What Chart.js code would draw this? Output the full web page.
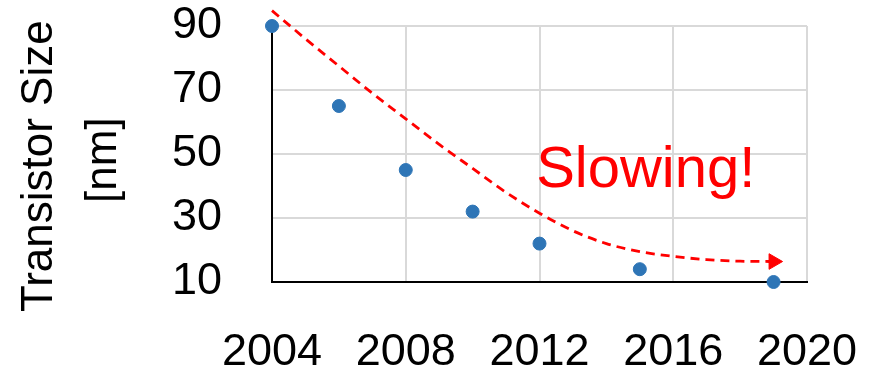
<!DOCTYPE html>
<html>
<head>
<meta charset="utf-8">
<script src="https://cdn.jsdelivr.net/npm/chart.js@4"></script>
<style>
  body { margin: 0; background: #fff; }
</style>
</head>
<body>
<canvas id="sizeChart" width="875" height="372"></canvas>
<script>
// measured transistor sizes
const years = [2004, 2006, 2008, 2010, 2012, 2015, 2019];
const sizes = [90, 65, 45, 32, 22, 14, 10];

// hand drawn trend ("slowing") curve
const trendYears = [2004, 2005, 2006, 2007, 2008, 2009, 2010, 2011, 2012, 2013, 2014, 2015, 2016, 2017, 2018, 2019];
const trendSizes = [94.8, 86, 77.5, 69, 61, 53, 45.5, 38, 31.5, 26, 22, 19.5, 18, 17, 16.5, 16.4];

const xTicks = [2004, 2008, 2012, 2016, 2020];
const yTicks = [10, 30, 50, 70, 90];

const noteText = "Slowing!";
const noteAt = { x: 2011.9, y: 39.6 };

const FONT = "'Liberation Sans', Arial, sans-serif";

const notePlugin = {
    id: 'note',
    afterDatasetsDraw(chart) {
        const ctx = chart.ctx;
        const px = chart.scales.x.getPixelForValue(noteAt.x);
        const py = chart.scales.y.getPixelForValue(noteAt.y);
        ctx.save();
        ctx.font = "58px " + FONT;
        ctx.fillStyle = "#ff0000";
        ctx.textBaseline = "alphabetic";
        ctx.fillText(noteText, px, py);
        ctx.restore();
    }
};

const lastTrend = trendYears.length - 1;

const config = {
    type: 'scatter',
    data: {
        datasets: [
            {
                label: 'Size',
                data: years.map((y, i) => ({ x: y, y: sizes[i] })),
                backgroundColor: '#2e75b6',
                borderColor: '#2e75b6',
                pointRadius: 6.5,
                pointHoverRadius: 6.5,
                clip: false,
            },
            {
                label: 'Trend',
                data: trendYears.map((y, i) => ({ x: y, y: trendSizes[i] })),
                showLine: true,
                borderColor: '#ff0000',
                backgroundColor: '#ff0000',
                borderWidth: 2.8,
                borderDash: [9, 6],
                tension: 0.4,
                cubicInterpolationMode: 'monotone',
                pointStyle: 'triangle',
                pointRotation: 90,
                pointRadius: trendYears.map((y, i) => i === lastTrend ? 9 : 0),
                pointBorderWidth: 1,
                clip: false,
            }
        ]
    },
    options: {
        responsive: false,
        animation: false,
        devicePixelRatio: 1,
        layout: {
            padding: { top: 26, right: 68, left: 0, bottom: 0 }
        },
        plugins: {
            legend: { display: false },
            tooltip: { enabled: false },
        },
        scales: {
            x: {
                type: 'linear',
                min: 2004,
                max: 2020,
                afterBuildTicks: axis => { axis.ticks = xTicks.map(v => ({ value: v })); },
                afterFit: axis => {
                    axis.height = 90;
                    axis.paddingLeft = 0;
                    axis.paddingRight = 0;
                },
                grid: { color: '#d9d9d9', lineWidth: 2, drawTicks: false },
                border: { color: '#000000', width: 2 },
                ticks: {
                    autoSkip: false,
                    maxRotation: 0,
                    padding: 44,
                    color: '#000000',
                    font: { family: FONT, size: 45 },
                    callback: v => String(v),
                },
            },
            y: {
                min: 10,
                max: 90,
                afterBuildTicks: axis => { axis.ticks = yTicks.map(v => ({ value: v })); },
                afterFit: axis => {
                    axis.width = 272;
                    axis.paddingTop = 0;
                    axis.paddingBottom = 0;
                },
                grid: { color: '#d9d9d9', lineWidth: 2, drawTicks: false },
                border: { color: '#000000', width: 2 },
                ticks: {
                    autoSkip: false,
                    padding: 50,
                    color: '#000000',
                    font: { family: FONT, size: 45 },
                    callback: v => String(v),
                },
                title: {
                    display: true,
                    text: ['Transistor Size  ', '[nm] '],
                    color: '#000000',
                    font: { family: FONT, size: 44, lineHeight: 1.45 },
                    padding: { top: 8, bottom: 0 },
                },
            }
        }
    },
    plugins: [notePlugin]
};

new Chart(document.getElementById('sizeChart'), config);
</script>
</body>
</html>
